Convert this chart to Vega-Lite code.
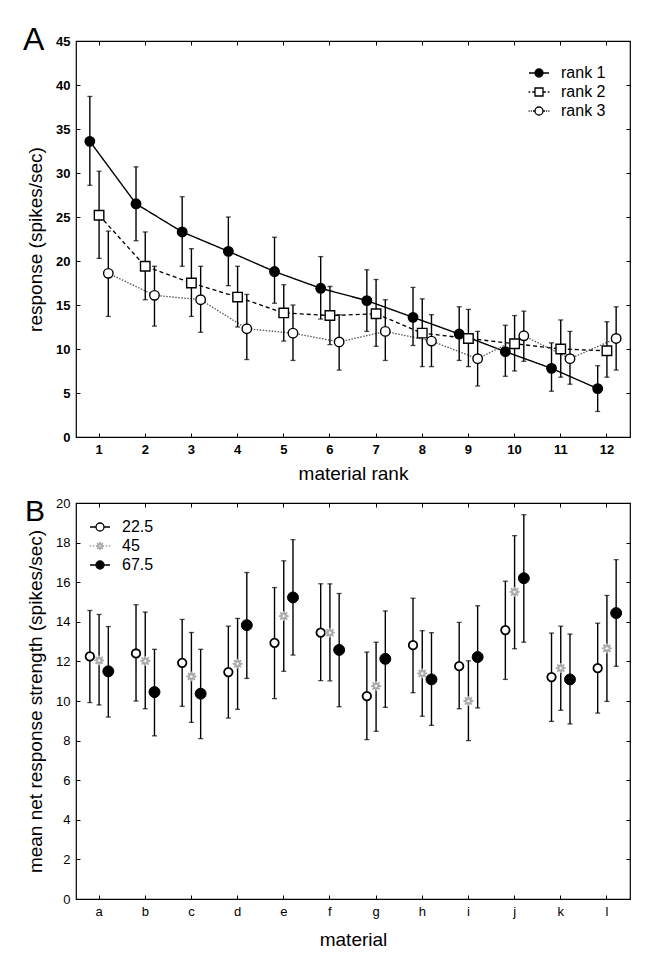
{
  "$schema": "https://vega.github.io/schema/vega-lite/v6.json",
  "background": "white",
  "padding": {"top": 23, "left": 22, "right": 20, "bottom": 5},
  "spacing": 12,
  "config": {
    "font": "Liberation Sans",
    "view": {"stroke": "black", "strokeWidth": 1.2},
    "axis": {"grid": false, "domain": false, "tickSize": -4, "tickColor": "black", "labelColor": "black", "titleColor": "black", "titleFontWeight": "normal", "titleFontSize": 19, "labelFontSize": 13},
    "title": {"fontWeight": "normal", "color": "black"},
    "legend": {"labelFontSize": 16, "labelColor": "black", "symbolSize": 64, "rowPadding": 3, "labelOffset": 14, "symbolStrokeWidth": 1.3, "symbolOpacity": 1}
  },
  "resolve": {
    "scale": {"shape": "independent", "fill": "independent", "stroke": "independent", "strokeWidth": "independent", "size": "independent", "xOffset": "independent", "strokeDash": "independent"}
  },
  "datasets": {
    "rankData": [
      {"rank": 1, "series": "rank 1", "mean": 33.6, "lo": 28.6, "hi": 38.7},
      {"rank": 2, "series": "rank 1", "mean": 26.5, "lo": 22.3, "hi": 30.7},
      {"rank": 3, "series": "rank 1", "mean": 23.3, "lo": 19.4, "hi": 27.3},
      {"rank": 4, "series": "rank 1", "mean": 21.1, "lo": 17.2, "hi": 25.0},
      {"rank": 5, "series": "rank 1", "mean": 18.8, "lo": 15.2, "hi": 22.7},
      {"rank": 6, "series": "rank 1", "mean": 16.9, "lo": 13.4, "hi": 20.5},
      {"rank": 7, "series": "rank 1", "mean": 15.5, "lo": 12.0, "hi": 19.0},
      {"rank": 8, "series": "rank 1", "mean": 13.6, "lo": 10.4, "hi": 17.0},
      {"rank": 9, "series": "rank 1", "mean": 11.7, "lo": 8.7, "hi": 14.8},
      {"rank": 10, "series": "rank 1", "mean": 9.7, "lo": 6.9, "hi": 12.7},
      {"rank": 11, "series": "rank 1", "mean": 7.8, "lo": 5.2, "hi": 10.7},
      {"rank": 12, "series": "rank 1", "mean": 5.5, "lo": 2.9, "hi": 8.1},
      {"rank": 1, "series": "rank 2", "mean": 25.2, "lo": 20.3, "hi": 30.2},
      {"rank": 2, "series": "rank 2", "mean": 19.4, "lo": 15.6, "hi": 23.3},
      {"rank": 3, "series": "rank 2", "mean": 17.5, "lo": 13.7, "hi": 21.4},
      {"rank": 4, "series": "rank 2", "mean": 15.9, "lo": 12.5, "hi": 19.4},
      {"rank": 5, "series": "rank 2", "mean": 14.1, "lo": 10.9, "hi": 17.3},
      {"rank": 6, "series": "rank 2", "mean": 13.8, "lo": 10.5, "hi": 17.1},
      {"rank": 7, "series": "rank 2", "mean": 14.0, "lo": 10.3, "hi": 17.9},
      {"rank": 8, "series": "rank 2", "mean": 11.8, "lo": 8.0, "hi": 15.7},
      {"rank": 9, "series": "rank 2", "mean": 11.2, "lo": 8.0, "hi": 14.5},
      {"rank": 10, "series": "rank 2", "mean": 10.6, "lo": 7.5, "hi": 13.8},
      {"rank": 11, "series": "rank 2", "mean": 10.0, "lo": 6.8, "hi": 13.3},
      {"rank": 12, "series": "rank 2", "mean": 9.8, "lo": 6.8, "hi": 13.1},
      {"rank": 1, "series": "rank 3", "mean": 18.6, "lo": 13.7, "hi": 23.4},
      {"rank": 2, "series": "rank 3", "mean": 16.1, "lo": 12.6, "hi": 19.4},
      {"rank": 3, "series": "rank 3", "mean": 15.6, "lo": 11.9, "hi": 19.4},
      {"rank": 4, "series": "rank 3", "mean": 12.3, "lo": 8.8, "hi": 16.2},
      {"rank": 5, "series": "rank 3", "mean": 11.8, "lo": 8.7, "hi": 15.0},
      {"rank": 6, "series": "rank 3", "mean": 10.8, "lo": 7.6, "hi": 13.9},
      {"rank": 7, "series": "rank 3", "mean": 12.0, "lo": 8.7, "hi": 15.6},
      {"rank": 8, "series": "rank 3", "mean": 10.9, "lo": 8.0, "hi": 13.9},
      {"rank": 9, "series": "rank 3", "mean": 8.9, "lo": 5.8, "hi": 12.0},
      {"rank": 10, "series": "rank 3", "mean": 11.5, "lo": 8.6, "hi": 14.3},
      {"rank": 11, "series": "rank 3", "mean": 8.9, "lo": 6.0, "hi": 12.0},
      {"rank": 12, "series": "rank 3", "mean": 11.2, "lo": 7.6, "hi": 14.8}
    ],
    "materialData": [
      {"material": "a", "angle": "22.5", "mean": 12.25, "lo": 9.92, "hi": 14.57},
      {"material": "a", "angle": "45", "mean": 12.05, "lo": 9.8, "hi": 14.37},
      {"material": "a", "angle": "67.5", "mean": 11.5, "lo": 9.19, "hi": 13.76},
      {"material": "b", "angle": "22.5", "mean": 12.4, "lo": 10.0, "hi": 14.86},
      {"material": "b", "angle": "45", "mean": 12.02, "lo": 9.61, "hi": 14.49},
      {"material": "b", "angle": "67.5", "mean": 10.45, "lo": 8.24, "hi": 12.61},
      {"material": "c", "angle": "22.5", "mean": 11.93, "lo": 9.73, "hi": 14.12},
      {"material": "c", "angle": "45", "mean": 11.24, "lo": 8.92, "hi": 13.46},
      {"material": "c", "angle": "67.5", "mean": 10.37, "lo": 8.1, "hi": 12.61},
      {"material": "d", "angle": "22.5", "mean": 11.46, "lo": 9.14, "hi": 13.78},
      {"material": "d", "angle": "45", "mean": 11.88, "lo": 9.58, "hi": 14.17},
      {"material": "d", "angle": "67.5", "mean": 13.83, "lo": 11.14, "hi": 16.49},
      {"material": "e", "angle": "22.5", "mean": 12.94, "lo": 10.12, "hi": 15.73},
      {"material": "e", "angle": "45", "mean": 14.29, "lo": 11.5, "hi": 17.08},
      {"material": "e", "angle": "67.5", "mean": 15.23, "lo": 12.32, "hi": 18.15},
      {"material": "f", "angle": "22.5", "mean": 13.45, "lo": 11.03, "hi": 15.92},
      {"material": "f", "angle": "45", "mean": 13.45, "lo": 11.02, "hi": 15.92},
      {"material": "f", "angle": "67.5", "mean": 12.58, "lo": 9.71, "hi": 15.43},
      {"material": "g", "angle": "22.5", "mean": 10.25, "lo": 8.05, "hi": 12.47},
      {"material": "g", "angle": "45", "mean": 10.76, "lo": 8.47, "hi": 12.97},
      {"material": "g", "angle": "67.5", "mean": 12.13, "lo": 9.68, "hi": 14.55},
      {"material": "h", "angle": "22.5", "mean": 12.82, "lo": 10.42, "hi": 15.19},
      {"material": "h", "angle": "45", "mean": 11.39, "lo": 9.23, "hi": 13.55},
      {"material": "h", "angle": "67.5", "mean": 11.09, "lo": 8.77, "hi": 13.45},
      {"material": "i", "angle": "22.5", "mean": 11.76, "lo": 9.61, "hi": 13.97},
      {"material": "i", "angle": "45", "mean": 10.0, "lo": 8.0, "hi": 12.03},
      {"material": "i", "angle": "67.5", "mean": 12.22, "lo": 9.65, "hi": 14.81},
      {"material": "j", "angle": "22.5", "mean": 13.58, "lo": 11.09, "hi": 16.05},
      {"material": "j", "angle": "45", "mean": 15.51, "lo": 12.64, "hi": 18.35},
      {"material": "j", "angle": "67.5", "mean": 16.2, "lo": 12.97, "hi": 19.41},
      {"material": "k", "angle": "22.5", "mean": 11.21, "lo": 8.97, "hi": 13.43},
      {"material": "k", "angle": "45", "mean": 11.66, "lo": 9.53, "hi": 13.78},
      {"material": "k", "angle": "67.5", "mean": 11.09, "lo": 8.84, "hi": 13.38},
      {"material": "l", "angle": "22.5", "mean": 11.66, "lo": 9.39, "hi": 13.93},
      {"material": "l", "angle": "45", "mean": 12.66, "lo": 9.98, "hi": 15.33},
      {"material": "l", "angle": "67.5", "mean": 14.44, "lo": 11.75, "hi": 17.14}
    ]
  },
  "vconcat": [
    {
      "width": 554,
      "height": 396,
      "data": {"name": "rankData"},
      "title": {"text": "A", "anchor": "start", "frame": "group", "fontSize": 32, "baseline": "alphabetic", "offset": -47, "dx": -53},
      "encoding": {
        "x": {"field": "rank", "type": "ordinal", "axis": null, "scale": {"type": "band", "paddingInner": 0, "paddingOuter": 0}},
        "xOffset": {"field": "series", "type": "nominal", "scale": {"domain": ["rank 1", "rank 2", "rank 3"], "paddingInner": 0, "paddingOuter": 1.8}}
      },
      "layer": [
        {
          "mark": {"type": "line"},
          "encoding": {
            "y": {"field": "mean", "type": "quantitative", "axis": null, "scale": {"domain": [0, 45], "nice": false}},
            "detail": {"field": "series"},
            "stroke": {"field": "series", "legend": null, "scale": {"domain": ["rank 1", "rank 2", "rank 3"], "range": ["black", "black", "#555555"]}},
            "strokeDash": {"field": "series", "legend": null, "scale": {"domain": ["rank 1", "rank 2", "rank 3"], "range": [[1, 0], [4, 3], [1.5, 1.5]]}},
            "strokeWidth": {"field": "series", "legend": null, "scale": {"domain": ["rank 1", "rank 2", "rank 3"], "range": [1.4, 1.3, 1]}}
          }
        },
        {
          "mark": {"type": "rule", "color": "black", "strokeWidth": 1.4},
          "encoding": {
            "x": {"field": "rank", "type": "ordinal", "axis": {"orient": "top", "labels": false, "title": null}},
            "y": {"field": "lo", "type": "quantitative", "scale": {"domain": [0, 45], "nice": false}, "axis": {"orient": "right", "labels": false, "title": null, "values": [0, 5, 10, 15, 20, 25, 30, 35, 40, 45]}},
            "y2": {"field": "hi"}
          }
        },
        {
          "mark": {"type": "tick", "color": "black", "size": 5, "thickness": 1.3},
          "encoding": {
            "y": {"field": "lo", "type": "quantitative", "axis": null, "scale": {"domain": [0, 45], "nice": false}}
          }
        },
        {
          "mark": {"type": "tick", "color": "black", "size": 5, "thickness": 1.3},
          "encoding": {
            "y": {"field": "hi", "type": "quantitative", "axis": null, "scale": {"domain": [0, 45], "nice": false}}
          }
        },
        {
          "mark": {"type": "point", "filled": false, "stroke": "black", "strokeWidth": 1.4, "opacity": 1},
          "encoding": {
            "x": {"field": "rank", "type": "ordinal", "axis": {"orient": "bottom", "title": "material rank", "labelAngle": 0, "labelFontWeight": "bold", "labelPadding": 10, "titlePadding": 8}},
            "y": {"field": "mean", "type": "quantitative", "scale": {"domain": [0, 45], "nice": false}, "axis": {"orient": "left", "title": "response (spikes/sec)", "labelFontWeight": "bold", "values": [0, 5, 10, 15, 20, 25, 30, 35, 40, 45], "labelPadding": 10, "titlePadding": 10}},
            "shape": {"field": "series", "type": "nominal", "legend": null, "scale": {"domain": ["rank 1", "rank 2", "rank 3"], "range": ["circle", "square", "circle"]}},
            "fill": {"field": "series", "legend": null, "scale": {"domain": ["rank 1", "rank 2", "rank 3"], "range": ["black", "white", "white"]}},
            "size": {"value": 90}
          }
        },
        {
          "transform": [{"filter": "false"}],
          "mark": {"type": "point", "filled": false, "opacity": 1},
          "encoding": {
            "y": {"field": "mean", "type": "quantitative", "axis": null, "scale": {"domain": [0, 45], "nice": false}},
            "shape": {"field": "series", "type": "nominal", "scale": {"domain": ["rank 1", "rank 2", "rank 3"], "range": ["M-2.5,0L-1,0M1,0L2.5,0M-1,0A1,1,0,1,1,1,0A1,1,0,1,1,-1,0Z", "M-2.6,0L-2.2,0M-1.7,0L-1.1,0M1.1,0L1.7,0M2.2,0L2.6,0M-1,-1L1,-1L1,1L-1,1Z", "M-2.6,0L-2.35,0M-2.05,0L-1.8,0M-1.5,0L-1.1,0M1.1,0L1.5,0M1.8,0L2.05,0M2.35,0L2.6,0M-1,0A1,1,0,1,1,1,0A1,1,0,1,1,-1,0Z"]},
              "legend": {"title": null, "orient": "top-right", "offset": 24}},
            "fill": {"field": "series", "type": "nominal", "scale": {"domain": ["rank 1", "rank 2", "rank 3"], "range": ["black", "white", "white"]},
              "legend": {"title": null, "orient": "top-right", "offset": 24}},
            "stroke": {"field": "series", "type": "nominal", "scale": {"domain": ["rank 1", "rank 2", "rank 3"], "range": ["black", "black", "black"]},
              "legend": {"title": null, "orient": "top-right", "offset": 24}}
          }
        }
      ],
      "resolve": {"axis": {"x": "independent", "y": "independent"}, "scale": {"shape": "independent", "fill": "independent", "stroke": "independent"}}
    },
    {
      "width": 554,
      "height": 396,
      "data": {"name": "materialData"},
      "title": {"text": "B", "anchor": "start", "frame": "group", "fontSize": 30, "baseline": "alphabetic", "offset": -54, "dx": -51},
      "encoding": {
        "x": {"field": "material", "type": "nominal", "axis": null, "scale": {"type": "band", "paddingInner": 0, "paddingOuter": 0}},
        "xOffset": {"field": "angle", "type": "nominal", "scale": {"domain": ["22.5", "45", "67.5"], "paddingInner": 0, "paddingOuter": 1.8}}
      },
      "layer": [
        {
          "mark": {"type": "rule", "color": "black", "strokeWidth": 1.4},
          "encoding": {
            "x": {"field": "material", "type": "nominal", "axis": {"orient": "top", "labels": false, "title": null}},
            "y": {"field": "lo", "type": "quantitative", "scale": {"domain": [0, 20], "nice": false}, "axis": {"orient": "right", "labels": false, "title": null, "values": [0, 2, 4, 6, 8, 10, 12, 14, 16, 18, 20]}},
            "y2": {"field": "hi"}
          }
        },
        {
          "mark": {"type": "tick", "color": "black", "size": 5, "thickness": 1.3},
          "encoding": {
            "y": {"field": "lo", "type": "quantitative", "axis": null, "scale": {"domain": [0, 20], "nice": false}}
          }
        },
        {
          "mark": {"type": "tick", "color": "black", "size": 5, "thickness": 1.3},
          "encoding": {
            "y": {"field": "hi", "type": "quantitative", "axis": null, "scale": {"domain": [0, 20], "nice": false}}
          }
        },
        {
          "mark": {"type": "point", "filled": false, "opacity": 1},
          "encoding": {
            "x": {"field": "material", "type": "nominal", "axis": {"orient": "bottom", "title": "material", "labelAngle": 0, "labelPadding": 10, "titlePadding": 12}},
            "y": {"field": "mean", "type": "quantitative", "scale": {"domain": [0, 20], "nice": false}, "axis": {"orient": "left", "title": "mean net response strength (spikes/sec)", "values": [0, 2, 4, 6, 8, 10, 12, 14, 16, 18, 20], "labelPadding": 10, "titlePadding": 10}},
            "shape": {"field": "angle", "type": "nominal", "legend": null, "scale": {"domain": ["22.5", "45", "67.5"], "range": ["circle", "M1,0L0.37,0.153L0.707,0.707L0.153,0.37L0,1L-0.153,0.37L-0.707,0.707L-0.37,0.153L-1,0L-0.37,-0.153L-0.707,-0.707L-0.153,-0.37L0,-1L0.153,-0.37L0.707,-0.707L0.37,-0.153Z", "circle"]}},
            "fill": {"field": "angle", "legend": null, "scale": {"domain": ["22.5", "45", "67.5"], "range": ["white", "white", "black"]}},
            "stroke": {"field": "angle", "legend": null, "scale": {"domain": ["22.5", "45", "67.5"], "range": ["black", "#aaaaaa", "black"]}},
            "strokeWidth": {"field": "angle", "legend": null, "scale": {"domain": ["22.5", "45", "67.5"], "range": [1.8, 1, 1.4]}},
            "size": {"field": "angle", "legend": null, "scale": {"domain": ["22.5", "45", "67.5"], "range": [72, 120, 80]}}
          }
        },
        {
          "transform": [{"filter": "false"}],
          "mark": {"type": "point", "filled": false, "opacity": 1},
          "encoding": {
            "y": {"field": "mean", "type": "quantitative", "axis": null, "scale": {"domain": [0, 20], "nice": false}},
            "shape": {"field": "angle", "type": "nominal", "scale": {"domain": ["22.5", "45", "67.5"], "range": ["M-2.5,0L-1,0M1,0L2.5,0M-1,0A1,1,0,1,1,1,0A1,1,0,1,1,-1,0Z", "M-2.6,0L-2.2,0M-1.8,0L-1.4,0M1.4,0L1.8,0M2.2,0L2.6,0M1,0L0.37,0.153L0.707,0.707L0.153,0.37L0,1L-0.153,0.37L-0.707,0.707L-0.37,0.153L-1,0L-0.37,-0.153L-0.707,-0.707L-0.153,-0.37L0,-1L0.153,-0.37L0.707,-0.707L0.37,-0.153Z", "M-2.5,0L-1,0M1,0L2.5,0M-1,0A1,1,0,1,1,1,0A1,1,0,1,1,-1,0Z"]},
              "legend": {"title": null, "orient": "top-left", "offset": 8, "padding": 8}},
            "fill": {"field": "angle", "type": "nominal", "scale": {"domain": ["22.5", "45", "67.5"], "range": ["white", "white", "black"]},
              "legend": {"title": null, "orient": "top-left", "offset": 8, "padding": 8}},
            "stroke": {"field": "angle", "type": "nominal", "scale": {"domain": ["22.5", "45", "67.5"], "range": ["black", "#aaaaaa", "black"]},
              "legend": {"title": null, "orient": "top-left", "offset": 8, "padding": 8}}
          }
        }
      ],
      "resolve": {"axis": {"x": "independent", "y": "independent"}, "scale": {"shape": "independent", "fill": "independent", "stroke": "independent"}}
    }
  ]
}
